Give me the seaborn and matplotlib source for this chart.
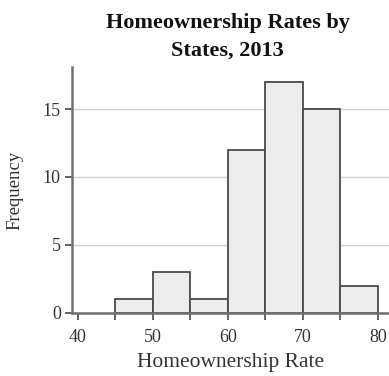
import matplotlib
matplotlib.use("Agg")
import matplotlib.pyplot as plt
import seaborn as sns
import numpy as np
import pandas as pd

bin_edges = [45, 50, 55, 60, 65, 70, 75, 80]
bin_centers = [47.5, 52.5, 57.5, 62.5, 67.5, 72.5, 77.5]
counts = [1, 3, 1, 12, 17, 15, 2]
x_ticks = [40, 50, 60, 70, 80]
y_ticks = [0, 5, 10, 15]

sns.set_style("white")
plt.rcParams['font.family'] = ['Liberation Serif', 'DejaVu Serif']

df = pd.DataFrame({"rate": bin_centers, "n": counts})

fig = plt.figure(figsize=(3.89, 3.76), dpi=100)
ax = fig.add_axes([0.185, 0.168, 0.815, 0.654])

ax.yaxis.grid(True, color="#d4d4d4", linewidth=1.0, zorder=0)
ax.set_axisbelow(True)

sns.histplot(data=df, x="rate", weights="n", bins=bin_edges, ax=ax,
             color="#ececec", edgecolor="#4a4a4a", linewidth=1.3, alpha=1.0,
             zorder=2)

ax.set_xlim(39.2, 81.5)
ax.set_ylim(0, 18.1)
ax.set_xticks(x_ticks)
ax.set_xticks(np.arange(40, 81, 5), minor=True)
ax.set_yticks(y_ticks)
ax.tick_params(axis="both", which="major", direction="out", length=5, width=1.3,
               color="#555555", labelsize=13, labelcolor="#333333", pad=3,
               bottom=True, left=True)
ax.tick_params(axis="x", which="major", pad=7)
ax.tick_params(axis="x", which="minor", direction="out", length=5, width=1.3,
               color="#555555", bottom=True)

for s in ["top", "right"]:
    ax.spines[s].set_visible(False)
for s in ["left", "bottom"]:
    ax.spines[s].set_color("#707070")
    ax.spines[s].set_linewidth(1.8)

ax.set_xlabel("Homeownership Rate", fontsize=15.5, color="#333333", labelpad=5)
ax.set_ylabel("Frequency", fontsize=13.5, color="#333333")
ax.yaxis.set_label_coords(-0.152, 0.5)
fig.text(0.585, 1 - 13 / 376, "Homeownership Rates by\nStates, 2013", ha="center", va="top",
         fontsize=16, fontweight="bold", linespacing=1.5, color="#111111")

fig.savefig("out.png", dpi=100)
